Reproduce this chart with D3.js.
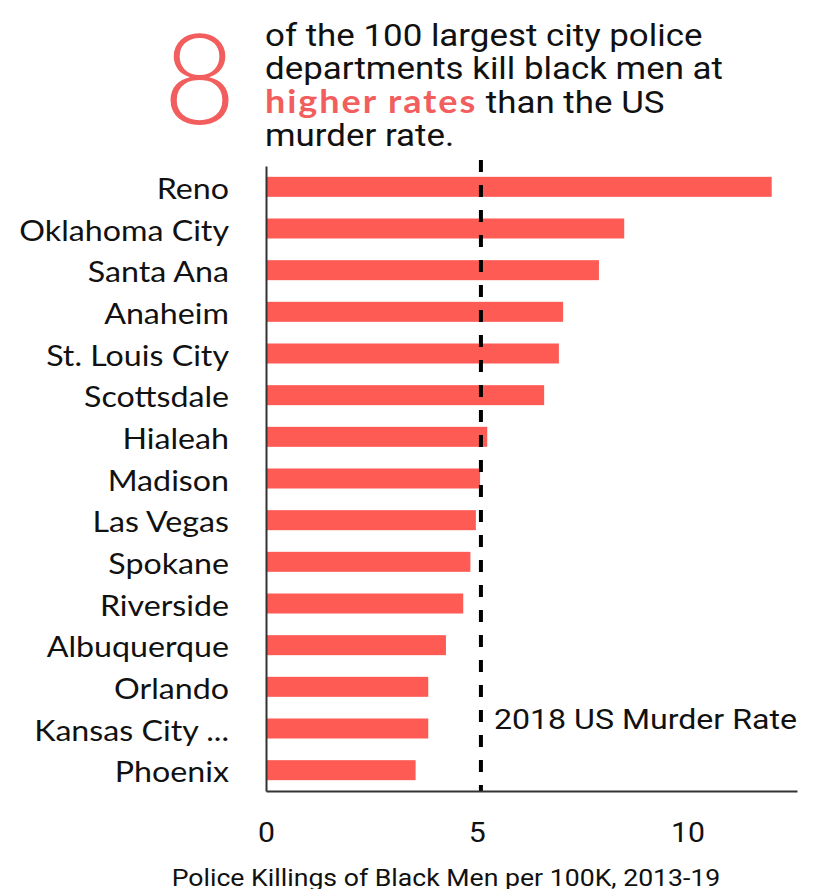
<!DOCTYPE html>
<html lang="en">
<head>
<meta charset="UTF-8">
<title>Police killings of black men</title>
<script src="https://d3js.org/d3.v7.min.js"></script>
<style>
  body { margin: 0; background: #fff; }
  svg { display: block; }
</style>
</head>
<body>
<div id="chart"></div>
<script>
  // data
  const cities = ["Reno", "Oklahoma City", "Santa Ana", "Anaheim", "St. Louis City", "Scottsdale",
    "Hialeah", "Madison", "Las Vegas", "Spokane", "Riverside", "Albuquerque", "Orlando",
    "Kansas City ...", "Phoenix"];
  const rates = [12.0, 8.5, 7.9, 7.05, 6.95, 6.6, 5.25, 5.08, 4.98, 4.85, 4.68, 4.27, 3.85, 3.85, 3.55];
  const murderRate = 5.1;
  const xTicks = [0, 5, 10];

  const width = 818, height = 889;
  const margin = { top: 166, right: 21, bottom: 98, left: 266 };
  const red = "#ff5b55";

  const svg = d3.select("#chart").append("svg")
    .attr("width", width)
    .attr("height", height);

  // the source's text is a bit wider than the installed fonts, so stretch it sideways
  function stretch(g, x0, sx) {
    return g.attr("transform", `translate(${x0},0) scale(${sx},1)`);
  }

  const x = d3.scaleLinear()
    .domain([0, 12.6])
    .range([margin.left, width - margin.right]);

  const y = d3.scaleBand()
    .domain(cities)
    .range([margin.top, height - margin.bottom])
    .paddingInner(0.52)
    .paddingOuter(0.26);

  // header
  svg.append("text")
    .attr("x", 163).attr("y", 124)
    .style("font-family", "Lato, sans-serif")
    .style("font-weight", 300)
    .style("font-size", "126px")
    .attr("fill", "#f25d5d")
    .text("8");

  const head = stretch(svg.append("g"), 265, 1.09).append("text")
    .style("font-family", "Roboto, sans-serif")
    .style("font-size", "32px")
    .attr("fill", "#111");
  head.append("tspan").attr("x", 0).attr("y", 46).text("of the 100 largest city police");
  head.append("tspan").attr("x", 0).attr("y", 79).text("departments kill black men at");
  const l3 = head.append("tspan").attr("x", 0).attr("y", 113);
  l3.append("tspan").attr("fill", "#f25d5d")
    .style("font-family", "Lato, sans-serif").style("font-weight", "bold")
    .style("font-size", "33px").style("letter-spacing", "1.8px")
    .text("higher rates");
  l3.append("tspan").text(" than the US");
  head.append("tspan").attr("x", 0).attr("y", 146).text("murder rate.");

  // bars
  svg.append("g").selectAll("rect")
    .data(cities)
    .join("rect")
    .attr("x", x(0))
    .attr("y", d => y(d))
    .attr("width", (d, i) => x(rates[i]) - x(0))
    .attr("height", y.bandwidth())
    .attr("fill", red);

  // city labels
  stretch(svg.append("g"), 229, 1.11).selectAll("text")
    .data(cities)
    .join("text")
    .attr("x", 0)
    .attr("y", d => y(d) + y.bandwidth() / 2)
    .attr("dy", "0.42em")
    .attr("text-anchor", "end")
    .style("font-family", "Lato, sans-serif")
    .style("font-size", "29px")
    .attr("fill", "#111")
    .text(d => d);

  // murder rate line
  svg.append("line")
    .attr("x1", x(murderRate)).attr("x2", x(murderRate))
    .attr("y1", 160).attr("y2", height - margin.bottom)
    .attr("stroke", "#000")
    .attr("stroke-width", 4)
    .attr("stroke-dasharray", "12,13");

  stretch(svg.append("g"), x(murderRate) + 13, 1.19).append("text")
    .attr("x", 0)
    .attr("y", 729)
    .style("font-family", "Roboto, sans-serif")
    .style("font-size", "27px")
    .attr("fill", "#111")
    .text("2018 US Murder Rate");

  // axes
  const xAxis = svg.append("g")
    .attr("transform", `translate(0,${height - margin.bottom})`)
    .call(d3.axisBottom(x).tickValues(xTicks).tickSize(0).tickPadding(32));
  xAxis.select(".domain").attr("stroke", "#333").attr("stroke-width", 2);
  xAxis.selectAll("text")
    .attr("transform", "scale(1.12,1)")
    .style("font-family", "Roboto, sans-serif")
    .style("font-size", "27px")
    .attr("fill", "#111");

  const yAxis = svg.append("g")
    .attr("transform", `translate(${margin.left},0)`)
    .call(d3.axisLeft(y).tickSize(0).tickFormat(""));
  yAxis.select(".domain").attr("stroke", "#333").attr("stroke-width", 2);

  stretch(svg.append("g"), 446, 1.11).append("text")
    .attr("x", 0).attr("y", 886)
    .attr("text-anchor", "middle")
    .style("font-family", "Roboto, sans-serif")
    .style("font-size", "24px")
    .attr("fill", "#111")
    .text("Police Killings of Black Men per 100K, 2013-19");
</script>
</body>
</html>
